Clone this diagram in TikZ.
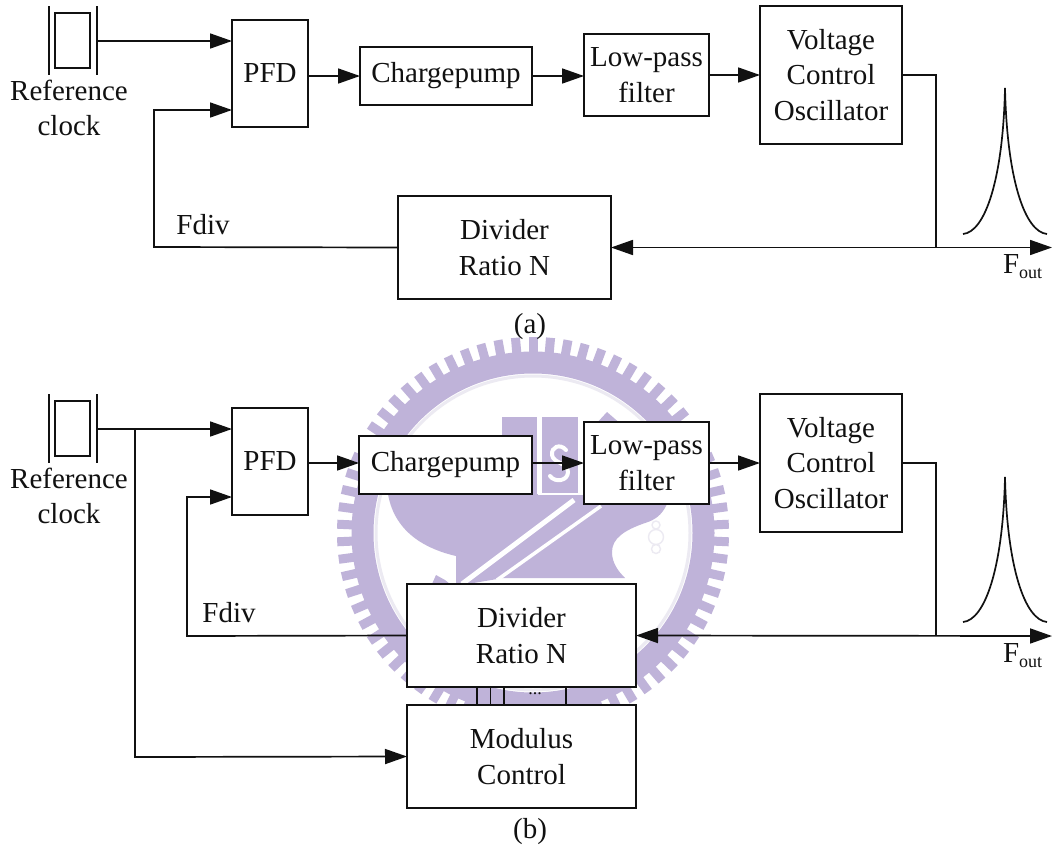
\documentclass[tikz,border=0pt]{standalone}
\usepackage{fontspec}
\setmainfont{Liberation Serif}
\usetikzlibrary{arrows.meta}
\definecolor{wm}{HTML}{BFB3D9}
\definecolor{wmpale}{HTML}{ECEAF2}
\definecolor{ink}{HTML}{111111}
\tikzset{
  box/.style={draw=ink,line width=1.7pt,fill=white,inner sep=0pt,outer sep=0pt,align=center,
    font=\fontsize{29}{35.5}\selectfont,text=ink},
  label/.style={inner sep=0pt,outer sep=0pt,align=center,font=\fontsize{29}{35.5}\selectfont,text=ink},
  wire/.style={draw=ink,line width=1.7pt,line join=miter},
  arrowed/.style={wire,-{Triangle[length=22pt,width=15pt]}},
  twoway/.style={wire,{Triangle[length=22pt,width=15pt]}-{Triangle[length=22pt,width=15pt]}},
}
\newcommand{\fout}{F\raisebox{-5pt}{\fontsize{18}{18}\selectfont out}}
\begin{document}
\begin{tikzpicture}[x=1pt,y=-1pt]
\useasboundingbox (0,0) rectangle (1052,849);
\fill[white] (0,0) rectangle (1052,849);
% watermark
\begin{scope}
  \foreach \a in {0,5.14286,...,359} {
    \fill[wm,rotate around={\a:(533,533)}] (528.5,337) rectangle (537.5,356);
  }
  \draw[wm,line width=22pt] (533,533) circle (170.5pt);
  \draw[wmpale,line width=3pt] (533,533) circle (157pt);
  \fill[wm] (502,417) rectangle (537,494);
  \fill[wm] (542,417) rectangle (578,494);
  \fill[wm] (595,425) -- (607,412) -- (622,425) -- (622,500) -- (595,500) -- cycle;
  \fill[wm] (388,494) -- (667,494) -- (667,504)
     .. controls (662,515) and (655,520) .. (645,523)
     .. controls (625,530) and (612,538) .. (612,552)
     .. controls (612,563) and (618,571) .. (625,578)
     -- (503,578) -- (456,586)
     -- (456,556) .. controls (430,550) and (395,535) .. (388,494) -- cycle;
  \fill[wm] (432,584) -- (436,575) -- (445,580) -- (450,584) -- cycle;
  \draw[white,line width=5pt] (574,500) -- (462,584);
  \draw[white,line width=3.5pt] (601,506) -- (497,580);
  \draw[white,line width=2.5pt] (539.5,417) -- (539.5,494) -- (600,494);
  \draw[white,line width=4pt,line cap=round] (566,450)
     .. controls (560,443) and (551,447) .. (552,455)
     .. controls (553,463) and (568,463) .. (568,472)
     .. controls (568,481) and (555,483) .. (550,476);
  \draw[wmpale,line width=1.4pt] (656,525) circle (4pt) (656,537) circle (7.5pt) (656,549) circle (4.5pt);
\end{scope}

% ---------- (a) ----------
\node[box,minimum width=35pt,minimum height=55pt] (xtalA) at (72.5,40.5) {};
\coordinate (xlA) at (49,6);
\coordinate (xlAb) at (49,75);
\coordinate (xrA) at (97,6);
\coordinate (xrAb) at (97,75);
\draw[wire] (xlA) -- (xlAb);
\draw[wire] (xrA) -- (xrAb);
\coordinate (xoutA) at (97,41);
\node[label] (refA) at (69,108) {Reference\\clock};
\node[box,minimum width=76pt,minimum height=107pt] (pfdA) at (270,73.5) {PFD};
\node[box,minimum width=172pt,minimum height=58pt] (cpA) at (446,76) {Chargepump};
\node[box,minimum width=125pt,minimum height=82pt] (lpfA) at (646.5,75) {Low-pass\\filter};
\node[box,minimum width=142pt,minimum height=138pt] (vcoA) at (831,75) {Voltage\\Control\\Oscillator};
\node[box,minimum width=213pt,minimum height=103pt] (divA) at (504.5,247.5) {Divider\\Ratio N};
\node[label,anchor=base] (fdivA) at (203,234) {Fdiv};
\node[label,anchor=base west] (foutA) at (1003,273) {\fout};
\node[label,anchor=base] (capA) at (530,333) {(a)};
\coordinate (turnA) at (154,247);
\coordinate (endA) at (1052,247.5);
\coordinate (tapA) at (936,247.5);
\draw[arrowed] (xoutA) -- (xoutA -| pfdA.west);
\draw[arrowed] (divA.west) -- (turnA) |- (232,110);
\draw[arrowed] (pfdA.east |- cpA.west) -- (cpA.west);
\draw[arrowed] (cpA.east) -- (lpfA.west |- cpA.east);
\draw[arrowed] (lpfA.east) -- (vcoA.west);
\draw[wire] (vcoA.east) -| (tapA);
\draw[twoway] (divA.east) -- (endA);
\draw[wire] (963,234) .. controls (985,232) and (1003,180) .. (1005,88)
   .. controls (1007,180) and (1025,232) .. (1047,234);

% ---------- (b) ----------
\node[box,minimum width=35pt,minimum height=55pt] (xtalB) at (72.5,428.5) {};
\coordinate (xlB) at (49,394);
\coordinate (xlBb) at (49,463);
\coordinate (xrB) at (97,394);
\coordinate (xrBb) at (97,463);
\draw[wire] (xlB) -- (xlBb);
\draw[wire] (xrB) -- (xrBb);
\coordinate (xoutB) at (97,429);
\coordinate (forkB) at (135,429);
\node[label] (refB) at (69,496) {Reference\\clock};
\node[box,minimum width=76pt,minimum height=107pt] (pfdB) at (270,461.5) {PFD};
\node[box,minimum width=173pt,minimum height=58pt] (cpB) at (445.5,465) {Chargepump};
\node[box,minimum width=125pt,minimum height=82pt] (lpfB) at (646.5,463) {Low-pass\\filter};
\node[box,minimum width=142pt,minimum height=138pt] (vcoB) at (831,463) {Voltage\\Control\\Oscillator};
\node[box,minimum width=229pt,minimum height=103pt] (divB) at (521.5,635.5) {Divider\\Ratio N};
\node[box,minimum width=229pt,minimum height=103pt] (modB) at (521.5,756.5) {Modulus\\Control};
\node[label,anchor=base] (fdivB) at (229,622) {Fdiv};
\node[label,anchor=base west] (foutB) at (1003,662) {\fout};
\node[label,anchor=base] (capB) at (530,838) {(b)};
\node[inner sep=0pt,font=\fontsize{18}{18}\selectfont,text=ink] (dotsB) at (535,694) {...};
\coordinate (turnB) at (187,636);
\coordinate (endB) at (1052,636);
\coordinate (tapB) at (936,636);
\coordinate (lowB) at (135,757);
\draw[arrowed] (xoutB) -- (xoutB -| pfdB.west);
\draw[arrowed] (forkB) -- (lowB) -- (modB.west);
\draw[arrowed] (divB.west) -- (turnB) |- (232,497);
\draw[arrowed] (pfdB.east |- lpfB.west) -- (cpB.west |- lpfB.west);
\draw[arrowed] (cpB.east |- lpfB.west) -- (lpfB.west);
\draw[arrowed] (lpfB.east) -- (vcoB.west);
\draw[wire] (vcoB.east) -| (tapB);
\draw[twoway] (divB.east) -- (endB);
\foreach \x in {477,490.5,504,566} {
  \draw[wire] (\x,687) -- (\x,705);
}
\draw[wire] (963,622) .. controls (985,620) and (1003,568) .. (1005,477)
   .. controls (1007,568) and (1025,620) .. (1047,622);
\end{tikzpicture}
\end{document}
